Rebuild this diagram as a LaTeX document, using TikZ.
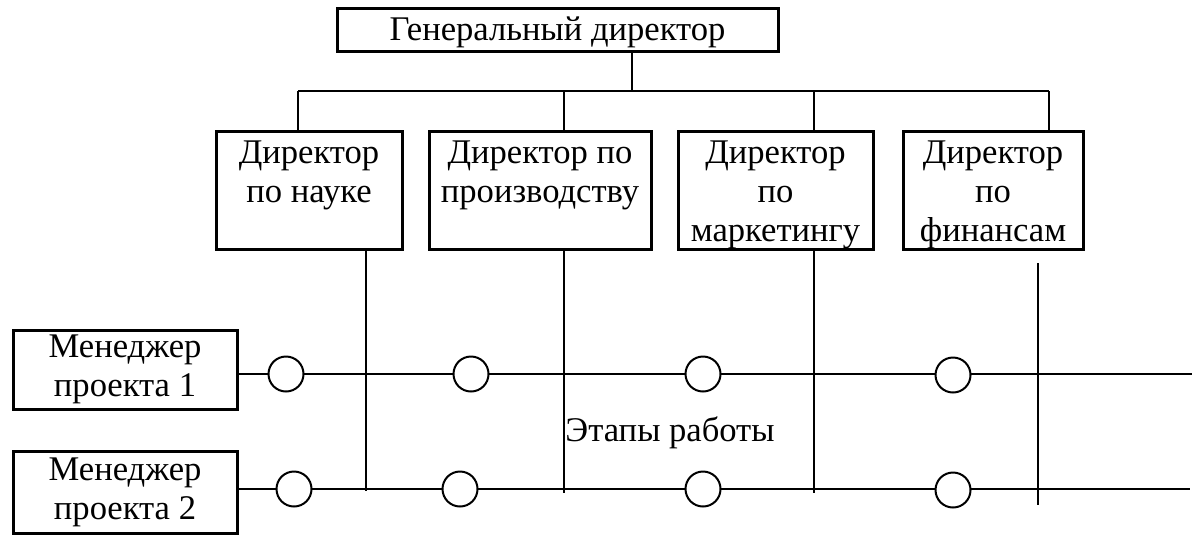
\documentclass[tikz,border=0pt]{standalone}
\usepackage{fontspec}
\setmainfont{Liberation Serif}
\usetikzlibrary{calc}
\tikzset{
  box/.style={draw, line width=1.5pt, inner sep=0pt},
  lbl/.style={font=\fontsize{17.3pt}{19.5pt}\selectfont, align=center, inner sep=0pt},
  wire/.style={line width=1pt},
  stage/.style={draw, circle, line width=1pt, minimum size=17.5pt, inner sep=0pt, fill=white},
}
\begin{document}
\begin{tikzpicture}[x=0.5pt,y=-0.5pt]
\useasboundingbox (0,0) rectangle (1202,541);

% top box
\node[box, minimum width=220.5pt, minimum height=21.5pt] (gd) at (557.5,29.5) {};
\node[lbl, anchor=base] (gdt) at (557.5,40) {Генеральный директор};

% director boxes
\node[box, minimum width=93pt, minimum height=59pt] (d1) at (309,190) {};
\node[box, minimum width=111pt, minimum height=59pt] (d2) at (540,190) {};
\node[box, minimum width=97.5pt, minimum height=59pt] (d3) at (775.5,190) {};
\node[box, minimum width=90pt, minimum height=59pt] (d4) at (993,190) {};

\node[lbl, anchor=north] (d1t) at ($(d1.north)+(0,11)$) {Директор\\по науке};
\node[lbl, anchor=north] (d2t) at ($(d2.north)+(0,11)$) {Директор по\\производству};
\node[lbl, anchor=north] (d3t) at ($(d3.north)+(0,11)$) {Директор\\по\\маркетингу};
\node[lbl, anchor=north] (d4t) at ($(d4.north)+(0,11)$) {Директор\\по\\финансам};

% manager boxes
\node[box, minimum width=112pt, minimum height=39.5pt] (m1) at (125,369.5) {};
\node[box, minimum width=112pt, minimum height=41pt] (m2) at (125,492) {};
\node[lbl] (m1t) at (m1.center) {Менеджер\\проекта 1};
\node[lbl] (m2t) at (m2.center) {Менеджер\\проекта 2};

% stage label
\node[lbl, anchor=base] (et) at (670,441) {Этапы работы};

% bus from top
\coordinate (bus) at (632,91);
\coordinate (bl) at (298,91);
\coordinate (br) at (1049,91);
\coordinate (b2) at (564,91);
\coordinate (b3) at (814,91);
\draw[wire] (gd.south -| bus) -- (bus);
\draw[wire] (bl) -- (br);
\draw[wire] (bl) -- (bl |- d1.north);
\draw[wire] (b2) -- (b2 |- d2.north);
\draw[wire] (b3) -- (b3 |- d3.north);
\draw[wire] (br) -- (br |- d4.north);

% vertical lines below directors
\coordinate (v1) at (366,491);
\coordinate (v2) at (564,493);
\coordinate (v3) at (814,493);
\coordinate (v4) at (1038,505);
\coordinate (v4s) at (1038,263);
\draw[wire] (v1 |- d1.south) -- (v1);
\draw[wire] (v2 |- d2.south) -- (v2);
\draw[wire] (v3 |- d3.south) -- (v3);
\draw[wire] (v4s) -- (v4);

% project rows
\coordinate (r1e) at (1192,374);
\coordinate (r2e) at (1190,489);
\draw[wire] (m1.east |- r1e) -- (r1e);
\draw[wire] (m2.east |- r2e) -- (r2e);

% stages
\node[stage] (s11) at (286,374) {};
\node[stage] (s12) at (471,374) {};
\node[stage] (s13) at (703,374) {};
\node[stage] (s14) at (953,375) {};
\node[stage] (s21) at (294,489) {};
\node[stage] (s22) at (460,489) {};
\node[stage] (s23) at (703,489) {};
\node[stage] (s24) at (953,490) {};
\end{tikzpicture}
\end{document}
